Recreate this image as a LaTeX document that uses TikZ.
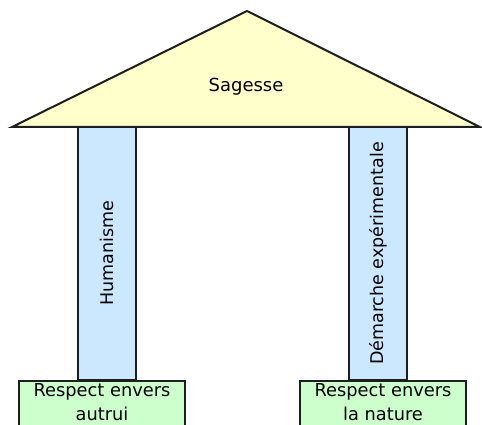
\documentclass[tikz,border=0pt]{standalone}
\usepackage{fontspec}
\setmainfont{DejaVu Sans}
\definecolor{roofyellow}{RGB}{255,255,204}
\definecolor{pillarblue}{RGB}{204,232,255}
\definecolor{basegreen}{RGB}{204,255,204}
\definecolor{edge}{RGB}{30,30,30}
% top-aligned text block of fixed height for the column bases
\newcommand{\basetext}[1]{\parbox[t][62pt][t]{160pt}{\centering #1}}
\tikzset{
  outline/.style={draw=edge, line width=2pt, line join=miter},
  pillar/.style={outline, fill=pillarblue, rotate=90, minimum width=253pt,
    minimum height=58pt, inner sep=0pt, font=\fontsize{17.5}{20}\selectfont},
  plinth/.style={outline, fill=basegreen, anchor=north, minimum width=166pt,
    inner xsep=3pt, inner ysep=3pt, font=\fontsize{17.8}{23.5}\selectfont},
  rooflabel/.style={font=\fontsize{18}{22}\selectfont, anchor=base}
}
\begin{document}
\begin{tikzpicture}[x=1pt,y=-1pt]
  \useasboundingbox (0,0) rectangle (482,425);
  \clip (0,0) rectangle (482,425);
  \fill[white] (0,0) rectangle (482,425);

  % columns
  \node[pillar] (hum) at (107,253.5) {Humanisme};
  \node[pillar] (dem) at (378,253.5) {Démarche expérimentale};

  % pediment
  \coordinate (apex) at (247,11);
  \coordinate (left) at (12,127);
  \coordinate (right) at (480,127);
  \draw[outline, fill=roofyellow] (left) -- (apex) -- (right) -- cycle;
  \node[rooflabel] (sag) at (246,92) {Sagesse};

  % bases
  \node[plinth] (autrui) at (102,380) {\basetext{Respect envers\\autrui}};
  \node[plinth] (nature) at (383,380) {\basetext{Respect envers\\la nature}};
\end{tikzpicture}
\end{document}
